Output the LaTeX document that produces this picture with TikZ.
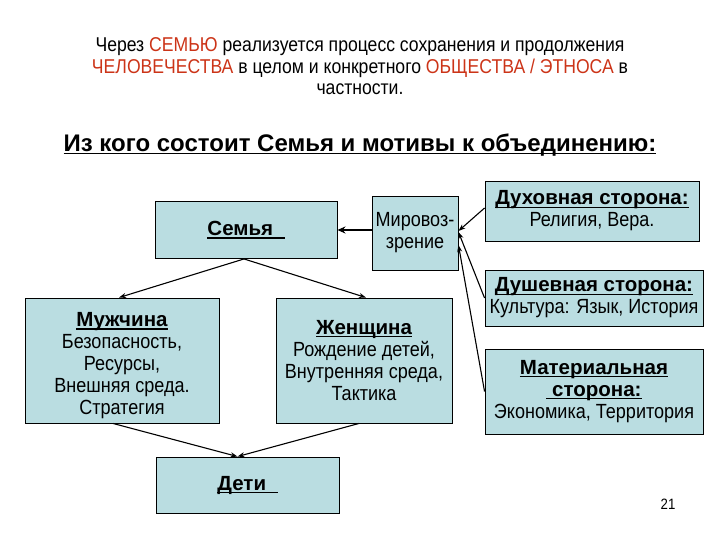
\documentclass[tikz,border=0pt]{standalone}
\usepackage{fontspec}
\setmainfont{Liberation Sans}
\newfontfamily\narrowf[FakeStretch=0.88]{Liberation Sans}
\usetikzlibrary{calc,arrows.meta}
\definecolor{boxfill}{RGB}{186,221,225}
\definecolor{hred}{RGB}{204,52,24}
\newcommand{\ulx}[1]{\leavevmode\setbox0=\hbox{#1}\rlap{\rule[-2.8pt]{\wd0}{1.2pt}}\box0}
\newcommand{\hd}[1]{{\normalfont\bfseries\ulx{#1}}}
\begin{document}
\begin{tikzpicture}[x=1pt,y=-1pt,
  box/.style={draw=black,line width=0.9pt,fill=boxfill,rectangle,inner sep=0pt,align=center,font=\fontsize{20.5}{22}\narrowf},
  ttl/.style={font=\fontsize{20}{21}\narrowf},
  conn/.style={-{Stealth[length=7pt,width=5pt]},line width=1.1pt},
  thick conn/.style={-{Stealth[length=8pt,width=7pt]},line width=2.4pt}]
\useasboundingbox (0,0) rectangle (720,540);
% title
\node[ttl] (t1) at (360,47) {Через \textcolor{hred}{СЕМЬЮ} реализуется процесс сохранения и продолжения};
\node[ttl] (t2) at (360,68) {\textcolor{hred}{ЧЕЛОВЕЧЕСТВА} в целом и конкретного \textcolor{hred}{ОБЩЕСТВА / ЭТНОСА} в};
\node[ttl] (t3) at (360,89) {частности.};
\node (head) at (360,145) {\fontsize{24}{28}\selectfont\bfseries \ulx{Из кого состоит Семья и мотивы к объединению:}};
% boxes
\node[box,minimum width=182pt,minimum height=57pt] (semya) at (246,230) {\hd{Семья~~}};
\node[box,minimum width=86pt,minimum height=74pt] (mir) at (415,233) {Мировоз-\\зрение};
\node[box,minimum width=214pt,minimum height=60pt] (dukh) at (592,211) {\hd{Духовная сторона:}\\Религия, Вера.};
\node[box,minimum width=218pt,minimum height=56pt] (dush) at (594,298) {\hd{Душевная сторона:}\\Культура: Язык, История};
\node[box,minimum width=218pt,minimum height=85pt] (mat) at (594,391.5) {\hd{Материальная}\\\hd{~сторона:}\\Экономика, Территория};
\node[box,minimum width=194pt,minimum height=125pt] (muzh) at (122,360.5) {\rule{0pt}{25pt}\hd{Мужчина}\\Безопасность,\\Ресурсы,\\Внешняя среда.\\Стратегия};
\node[box,minimum width=176pt,minimum height=125pt] (zhen) at (364,360.5) {\hd{Женщина}\\Рождение детей,\\Внутренняя среда,\\Тактика};
\node[box,minimum width=183pt,minimum height=56pt] (deti) at (247.5,485) {\hd{Дети~~}};
\node (num) at (668,504) {\fontsize{15}{16}\narrowf 21};
% connectors
\draw[thick conn] (mir.west |- semya.east) -- (semya.east);
\draw[conn] ($(semya.south)+(-2,0)$) -- ($(muzh.north)+(-3,0)$);
\draw[conn] ($(semya.south)+(-2,0)$) -- ($(zhen.north)+(2,0)$);
\draw[conn] ($(muzh.south)+(-9,0)$) -- ($(deti.north)+(-10,0)$);
\draw[conn] ($(zhen.south)+(-5,0)$) -- ($(deti.north)+(-10,0)$);
\draw[conn] ($(dukh.west)+(0,-3)$) -- ($(mir.east)+(0,-2)$);
\draw[conn] (dush.west) -- ($(mir.east)+(0,-1)$);
\draw[conn] (mat.west) -- ($(mir.east)+(0,12)$);
\end{tikzpicture}
\end{document}
